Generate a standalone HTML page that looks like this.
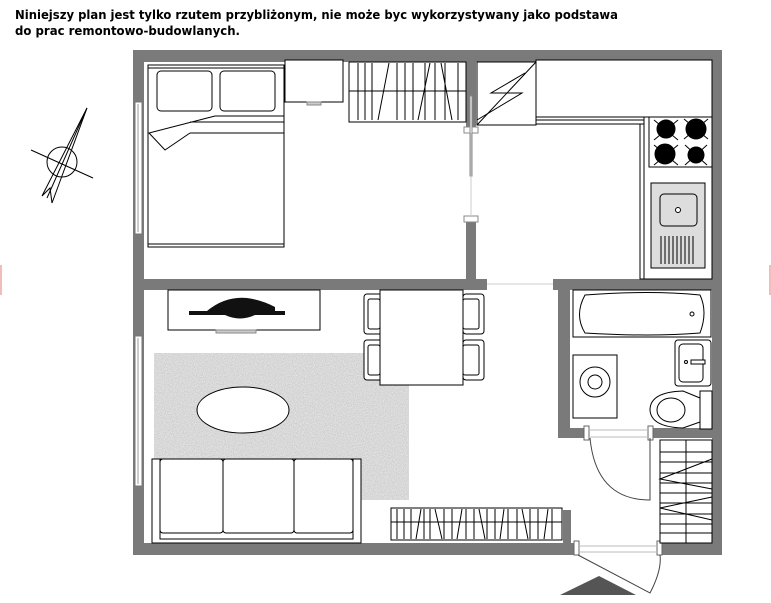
<!DOCTYPE html>
<html><head><meta charset="utf-8"><style>
html,body{margin:0;padding:0;background:#fff;width:771px;height:603px;overflow:hidden}
</style></head><body>
<svg width="771" height="603" viewBox="0 0 771 603" xmlns="http://www.w3.org/2000/svg">
<defs>
<filter id="noise" x="0" y="0" width="100%" height="100%">
<feTurbulence type="fractalNoise" baseFrequency="0.9" numOctaves="2" seed="3"/>
<feColorMatrix type="matrix" values="0 0 0 0 0.55  0 0 0 0 0.55  0 0 0 0 0.55  0 0 0 -1.4 1.1"/>
</filter>
</defs>
<text x="15" y="19" font-family="DejaVu Sans, Liberation Sans, sans-serif" font-weight="bold" font-size="12" textLength="603" lengthAdjust="spacingAndGlyphs">Niniejszy plan jest tylko rzutem przybliżonym, nie może byc wykorzystywany jako podstawa</text>
<text x="15" y="35" font-family="DejaVu Sans, Liberation Sans, sans-serif" font-weight="bold" font-size="12" textLength="225" lengthAdjust="spacingAndGlyphs">do prac remontowo-budowlanych.</text>

<!-- compass -->
<g stroke="#000" fill="none" stroke-width="1">
<circle cx="62" cy="162" r="15"/>
<line x1="31" y1="150" x2="93" y2="178"/>
<polyline points="87,108 42,196 50,188 52,203 87,108"/>
<line x1="87" y1="108" x2="47" y2="198"/>
</g>

<!-- rug -->
<rect x="154" y="353" width="255" height="147" fill="#e6e6e6"/>
<rect x="154" y="353" width="255" height="147" filter="url(#noise)"/>

<!-- walls -->
<g fill="#7a7a7a">
<rect x="133" y="50" width="589" height="12"/>
<rect x="133" y="50" width="11" height="505"/>
<rect x="712" y="50" width="10" height="505"/>
<rect x="133" y="543" width="442" height="12"/>
<rect x="662" y="543" width="60" height="12"/>
<rect x="144" y="279" width="343" height="11"/>
<rect x="553" y="279" width="159" height="11"/>
<rect x="466" y="62" width="10" height="68"/>
<rect x="466" y="222" width="10" height="60"/>
<rect x="558" y="290" width="12" height="148"/>
<rect x="558" y="428" width="27" height="10"/>
<rect x="650" y="428" width="62" height="10"/>
<rect x="563" y="510" width="8" height="33"/>
</g>
<!-- windows -->
<g fill="#fff" stroke="#777" stroke-width="1">
<rect x="135" y="102" width="7" height="132"/>
<rect x="135" y="336" width="7" height="150"/>
</g>
<g stroke="#999" stroke-width="1" fill="none">
<line x1="138" y1="104" x2="138" y2="232"/>
<line x1="138" y1="338" x2="138" y2="484"/>
<line x1="487" y1="284" x2="553" y2="284" stroke="#ccc"/>
</g>
<!-- bedroom door sliding -->
<g stroke="#888" fill="#fff">
<rect x="464" y="127" width="14" height="6"/>
<rect x="464" y="216" width="14" height="6"/>
<rect x="470" y="96" width="2" height="80"/>
<line x1="471" y1="133" x2="471" y2="216" stroke="#ccc"/>
</g>
<!-- bathroom door -->
<g stroke="#666" fill="#fff" stroke-width="1">
<rect x="584" y="426" width="5" height="14"/>
<rect x="648" y="426" width="5" height="14"/>
<rect x="574" y="541" width="5" height="14"/>
<rect x="657" y="541" width="5" height="14"/>
<line x1="589" y1="430" x2="648" y2="430" stroke="#bbb"/>
<line x1="589" y1="437" x2="648" y2="437" stroke="#bbb"/>
<line x1="579" y1="546" x2="657" y2="546" stroke="#bbb"/>
<line x1="579" y1="552" x2="657" y2="552" stroke="#bbb"/>
<path d="M590 438 Q596 500 650 500 L650 438" fill="none" stroke="#444"/>
<path d="M578 555 L650 593 Q662 570 660 555" fill="none" stroke="#444"/>
</g>
<polygon points="560,595 599,576 636,595" fill="#555"/>

<g stroke="#000" stroke-width="1" fill="#fff">
<!-- bed -->
<rect x="148" y="65" width="136" height="182"/>
<line x1="148" y1="68" x2="284" y2="68"/>
<line x1="148" y1="244" x2="284" y2="244"/>
<rect x="157" y="71" width="55" height="40" rx="4"/>
<rect x="220" y="71" width="55" height="40" rx="4"/>
<line x1="215" y1="116" x2="284" y2="116"/>
<line x1="190" y1="122" x2="284" y2="122"/>
<line x1="190" y1="133" x2="284" y2="133"/>
<polyline points="215,116 149,133 165,150 190,133" fill="none"/>
<!-- desk -->
<rect x="285" y="60" width="58" height="42"/>
<rect x="307" y="102" width="14" height="3" fill="#ccc" stroke="#888"/>
<!-- wardrobe -->
<rect x="349" y="62" width="117" height="60"/>
<line x1="349" y1="91" x2="466" y2="91"/>
<path d="M358 63V120M365 63V120M372 63V120M397 63V120M405 63V120M413 63V120M425 63V120M435 63V120M445 63V120M458 63V120M378 120L389 63M418 120L430 63M441 63L452 120" fill="none"/>
<!-- kitchen -->
<rect x="477" y="62" width="59" height="63"/>
<polyline points="477,125 536,62" fill="none"/>
<polyline points="525,73 491,93 522,93 477,120" fill="none"/>
<rect x="536" y="60" width="176" height="57"/>
<rect x="536" y="120" width="113" height="4"/>
<rect x="640" y="124" width="4" height="155"/>
<rect x="644" y="117" width="68" height="162"/>
<rect x="649" y="117" width="63" height="50"/>
</g>
<g fill="#000" stroke="#000">
<circle cx="666" cy="129" r="9"/><circle cx="696" cy="129" r="10"/>
<circle cx="665" cy="154" r="10"/><circle cx="696" cy="155" r="8"/>
<path d="M654 120l24 20M678 120l-24 20M684 119l24 20M708 119l-24 20M654 145l24 20M678 145l-24 20M685 145l22 20M707 145l-22 20" stroke-width="1"/>
</g>
<g stroke="#000" fill="#fff">
<rect x="651" y="183" width="54" height="85" fill="#ddd"/>
<rect x="660" y="194" width="37" height="32" rx="4" fill="#ddd"/>
<circle cx="678" cy="210" r="2.5"/>
<path d="M661 236v28M665 236v28M669 236v28M673 236v28M677 236v28M681 236v28M685 236v28M689 236v28M693 236v28" fill="none"/>
<!-- TV stand -->
<rect x="168" y="290" width="152" height="40"/>
<rect x="216" y="330" width="40" height="3" fill="#ccc" stroke="#888"/>
</g>
<path d="M189 311h96v4h-96z M207 311 Q225 296 247 298 Q262 300 275 307 L275 311z M225 315 Q240 322 255 315z" fill="#111"/>
<g stroke="#000" fill="#fff">
<!-- chairs -->
<rect x="364" y="294" width="18" height="40" rx="3"/>
<rect x="368" y="299" width="12" height="30" rx="2"/>
<rect x="364" y="340" width="18" height="40" rx="3"/>
<rect x="368" y="345" width="12" height="30" rx="2"/>
<rect x="463" y="294" width="21" height="40" rx="3"/>
<rect x="463" y="299" width="16" height="30" rx="2"/>
<rect x="463" y="340" width="21" height="40" rx="3"/>
<rect x="463" y="345" width="16" height="30" rx="2"/>
<rect x="380" y="290" width="83" height="95"/>
<!-- oval -->
<ellipse cx="243" cy="410" rx="46" ry="23"/>
<!-- sofa -->
<rect x="152" y="459" width="209" height="84"/>
<rect x="160" y="459" width="193" height="80"/>
<rect x="160" y="459" width="63" height="74" rx="3"/>
<rect x="223" y="459" width="71" height="74" rx="3"/>
<rect x="294" y="459" width="59" height="74" rx="3"/>
<!-- shoe cabinet -->
<rect x="391" y="508" width="171" height="32"/>
<line x1="391" y1="522" x2="562" y2="522"/>
<path d="M397 509v30M404 509v30M411 509v30M424 509v30M430 509v30M444 509v30M452 509v30M466 509v30M474 509v30M487 509v30M495 509v30M508 509v30M517 509v30M530 509v30M538 509v30M552 509v30M416 539L421 509M435 509L442 539M457 539L462 509M479 509L485 539M500 539L504 509M522 509L528 539M544 539L548 509" fill="none"/>
<!-- bath -->
<rect x="573" y="290" width="138" height="47"/>
<path d="M585 295 Q650 290 700 295 Q708 312 700 333 Q650 337 585 333 Q574 315 585 295z"/>
<circle cx="692" cy="314" r="2"/>
<!-- washer -->
<rect x="573" y="355" width="44" height="63"/>
<circle cx="595" cy="382" r="15"/>
<circle cx="595" cy="382" r="7"/>
<!-- sink -->
<rect x="675" y="340" width="36" height="46" rx="3"/>
<rect x="679" y="344" width="24" height="38" rx="4"/>
<circle cx="686" cy="362" r="1.5"/>
<rect x="691" y="360" width="14" height="4"/>
<!-- toilet -->
<rect x="700" y="391" width="12" height="38"/>
<path d="M700 398 L683 391 Q650 392 650 410 Q651 427 683 428 L700 422z"/>
<ellipse cx="671" cy="410" rx="14" ry="12"/>
<!-- hall closet -->
<rect x="660" y="440" width="52" height="103"/>
<line x1="686" y1="440" x2="686" y2="543"/>
<path d="M660 452h52M660 462h52M660 473h52M660 483h52M660 493h52M660 503h52M660 514h52M660 524h52M660 533h52" fill="none"/>
<polyline points="712,459 660,479 712,489" fill="none"/>
<polyline points="712,497 660,508 712,520" fill="none"/>
</g>
<g fill="#f0bcbc"><rect x="0" y="265" width="2" height="30"/><rect x="769" y="265" width="2" height="30"/></g>
</svg>
</body></html>
